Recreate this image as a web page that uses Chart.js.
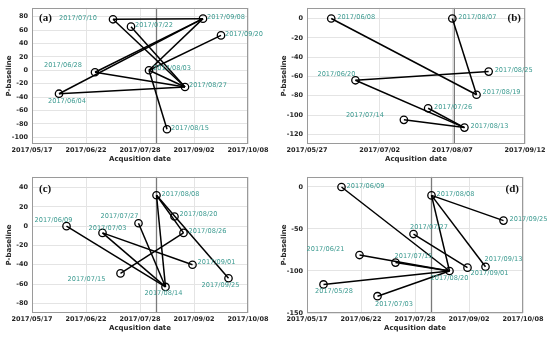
<!DOCTYPE html>
<html>
<head>
<meta charset="utf-8">
<script src="https://cdn.jsdelivr.net/npm/chart.js@4/dist/chart.umd.min.js"></script>
<style>
  html, body { margin: 0; padding: 0; background: #fff; }
  #wrap { position: relative; width: 550px; height: 338px; }
  canvas { position: absolute; }
</style>
</head>
<body>
<div id="wrap">
  <canvas id="ca" width="275" height="169" style="left:0;top:0"></canvas>
  <canvas id="cb" width="275" height="169" style="left:275px;top:0"></canvas>
  <canvas id="cc" width="275" height="169" style="left:0;top:169px"></canvas>
  <canvas id="cd" width="275" height="169" style="left:275px;top:169px"></canvas>
</div>
<script>
// ---------------- DATA ----------------
const EQ_DATE = '2017/08/08';

// Panel (a)
const aStart = '2017/05/17', aEnd = '2017/10/08';
const aDates = ['2017/06/04','2017/06/28','2017/07/10','2017/07/22','2017/08/03','2017/08/15','2017/08/27','2017/09/08','2017/09/20'];
const aBase  = [-35, -3, 76, 65, 0, -88, -25, 77, 52];
const aPairs = [[0,7],[0,6],[1,7],[1,6],[2,7],[2,6],[3,6],[4,7],[4,8],[4,5],[4,6]];
const aYTicks = [-110, 93, 20];

// Panel (b)
const bStart = '2017/05/27', bEnd = '2017/09/12';
const bDates = ['2017/06/08','2017/06/20','2017/07/14','2017/07/26','2017/08/07','2017/08/13','2017/08/19','2017/08/25'];
const bBase  = [0, -64, -105, -93, 0, -113, -79, -55];
const bPairs = [[0,6],[4,6],[1,7],[1,5],[3,5],[2,5]];
const bYTicks = [-130, 11, 20];

// Panel (c)
const cStart = '2017/05/17', cEnd = '2017/10/08';
const cDates = ['2017/06/09','2017/07/03','2017/07/15','2017/07/27','2017/08/08','2017/08/14','2017/08/20','2017/08/26','2017/09/01','2017/09/25'];
const cBase  = [0, -7, -49, 3, 32, -63, 10, -7, -40, -54];
const cPairs = [[0,5],[1,5],[1,8],[2,7],[3,5],[4,5],[4,7],[4,9]];
const cYTicks = [-90, 51, 20];

// Panel (d)
const dStart = '2017/05/17', dEnd = '2017/10/08';
const dDates = ['2017/05/28','2017/06/09','2017/06/21','2017/07/03','2017/07/15','2017/07/27','2017/08/08','2017/08/20','2017/09/01','2017/09/13','2017/09/25'];
const dBase  = [-116, 0, -81, -130, -90, -56, -10, -100, -96, -95, -40];
const dPairs = [[0,7],[1,7],[2,7],[3,7],[4,7],[5,8],[6,7],[6,9],[6,10]];
const dYTicks = [-150, 12, 50];

// -------- label placement (style only) --------
const aLabelPos = [[-11,8,'left'],[-13,-7,'right'],[-16,-1,'right'],[4,-1,'left'],[4,-2,'left'],[4,-1,'left'],[4,-2,'left'],[4,-1,'left'],[4,-1,'left']];
const bLabelPos = [[6,-1,'left'],[0,-6,'right'],[-20,-5,'right'],[6,-1,'left'],[6,-1,'left'],[6,-1,'left'],[6,-2,'left'],[6,-1,'left']];
const cLabelPos = [[6,-6,'right'],[-14,-5,'left'],[-15,6,'right'],[0,-7,'right'],[5,-1,'left'],[-2,6,'center'],[5,-2,'left'],[5,-2,'left'],[5,-2,'left'],[-8,7,'center']];
const dLabelPos = [[-8.5,7,'left'],[5,-1,'left'],[-15,-6,'right'],[-2.5,8,'left'],[-1,-6,'left'],[-3.5,-6.5,'left'],[5,-1,'left'],[-19,7,'left'],[3,6,'left'],[-1,-7.5,'left'],[6,-1,'left']];

// ---------------- helpers ----------------
function dayOf(s) { const p = s.split('/').map(Number); return Date.UTC(p[0], p[1]-1, p[2]) / 864e5; }
function fmt(day) {
  const d = new Date(Math.round(day) * 864e5);
  const p = n => String(n).padStart(2, '0');
  return d.getUTCFullYear() + '/' + p(d.getUTCMonth()+1) + '/' + p(d.getUTCDate());
}

const TEAL = '#3d9b91';
const TICK_FONT = { family: 'DejaVu Sans', size: 6.5, weight: 'bold' };
const TITLE_FONT = { family: 'DejaVu Sans', size: 7, weight: 'bold' };

const decor = {
  id: 'decor',
  beforeDatasetsDraw(chart, args, o) {
    const { ctx, chartArea: a, scales: { x } } = chart;
    const px = x.getPixelForValue(o.quake);
    ctx.save();
    ctx.strokeStyle = '#7a7a7a';
    ctx.lineWidth = 1.3;
    ctx.beginPath(); ctx.moveTo(px, a.top); ctx.lineTo(px, a.bottom); ctx.stroke();
    ctx.restore();
  },
  afterDatasetsDraw(chart, args, o) {
    const { ctx, chartArea: a, scales: { x, y } } = chart;
    ctx.save();
    // frame
    ctx.strokeStyle = '#9a9a9a';
    ctx.lineWidth = 1;
    ctx.strokeRect(Math.round(a.left) + 0.5, Math.round(a.top) + 0.5, Math.round(a.right - a.left) - 1, Math.round(a.bottom - a.top) - 1);
    // point labels
    ctx.font = '6.6px "DejaVu Sans"';
    ctx.fillStyle = TEAL;
    ctx.textBaseline = 'middle';
    o.points.forEach((p, i) => {
      const pos = o.labelPos[i];
      ctx.textAlign = pos[2];
      ctx.fillText(o.names[i], x.getPixelForValue(p.x) + pos[0], y.getPixelForValue(p.y) + pos[1]);
    });
    // panel letter
    ctx.font = 'bold 11px "Liberation Serif"';
    ctx.fillStyle = '#111';
    ctx.textAlign = o.letterAlign;
    ctx.fillText(o.letter, o.letterAlign === 'left' ? a.left + 7 : a.right - 4, a.top + o.letterDy);
    ctx.restore();
  }
};

function makePanel(id, start, end, dates, base, pairs, yt, labelPos, letter, letterAlign, letterDy, padTop, padRight) {
  const x0 = dayOf(start);
  const pts = dates.map((d, i) => ({ x: dayOf(d) - x0, y: base[i] }));
  const edgeSets = pairs.map(([i, j]) => ({
    data: [pts[i], pts[j]],
    showLine: true, borderColor: '#000', borderWidth: 1.5,
    pointRadius: 0, order: 2
  }));
  const pointSet = {
    data: pts, showLine: false, order: 0,
    pointStyle: 'circle', pointRadius: 3.7, borderWidth: 1.3,
    borderColor: '#000', backgroundColor: 'rgba(0,0,0,0)'
  };
  new Chart(document.getElementById(id), {
    type: 'scatter',
    data: { datasets: [pointSet, ...edgeSets] },
    plugins: [decor],
    options: {
      responsive: false, animation: false, devicePixelRatio: 1,
      layout: { padding: { top: padTop, right: padRight, left: 0, bottom: 0 } },
      plugins: {
        legend: { display: false }, tooltip: { enabled: false },
        decor: { quake: dayOf(EQ_DATE) - x0, points: pts, names: dates, labelPos, letter, letterAlign, letterDy }
      },
      scales: {
        x: {
          type: 'linear', min: 0, max: dayOf(end) - x0,
          ticks: { stepSize: 36, callback: v => fmt(x0 + v), font: TICK_FONT, color: '#262626', padding: 2, maxRotation: 0, autoSkip: false, includeBounds: false },
          grid: { color: '#e4e4e4', drawTicks: false },
          border: { display: false },
          title: { display: true, text: 'Acqusition date', font: TITLE_FONT, color: '#262626', padding: { top: 0, bottom: 6 } },
          afterFit: s => { s.height = 25; }
        },
        y: {
          min: yt[0], max: yt[1],
          ticks: { stepSize: yt[2], font: TICK_FONT, color: '#262626', padding: 4, includeBounds: false },
          grid: { color: '#e4e4e4', drawTicks: false },
          border: { display: false },
          title: { display: true, text: 'P-baseline', font: TITLE_FONT, color: '#262626', padding: { top: 5, bottom: 0 } },
          afterFit: s => { s.width = 32; }
        }
      }
    }
  });
}

makePanel('ca', aStart, aEnd, aDates, aBase, aPairs, aYTicks, aLabelPos, '(a)', 'left', 10, 5, 27);
makePanel('cb', bStart, bEnd, bDates, bBase, bPairs, bYTicks, bLabelPos, '(b)', 'right', 10.5, 5, 25);
makePanel('cc', cStart, cEnd, cDates, cBase, cPairs, cYTicks, cLabelPos, '(c)', 'left', 12, 6, 27);
makePanel('cd', dStart, dEnd, dDates, dBase, dPairs, dYTicks, dLabelPos, '(d)', 'right', 12, 5, 27);
</script>
</body>
</html>
